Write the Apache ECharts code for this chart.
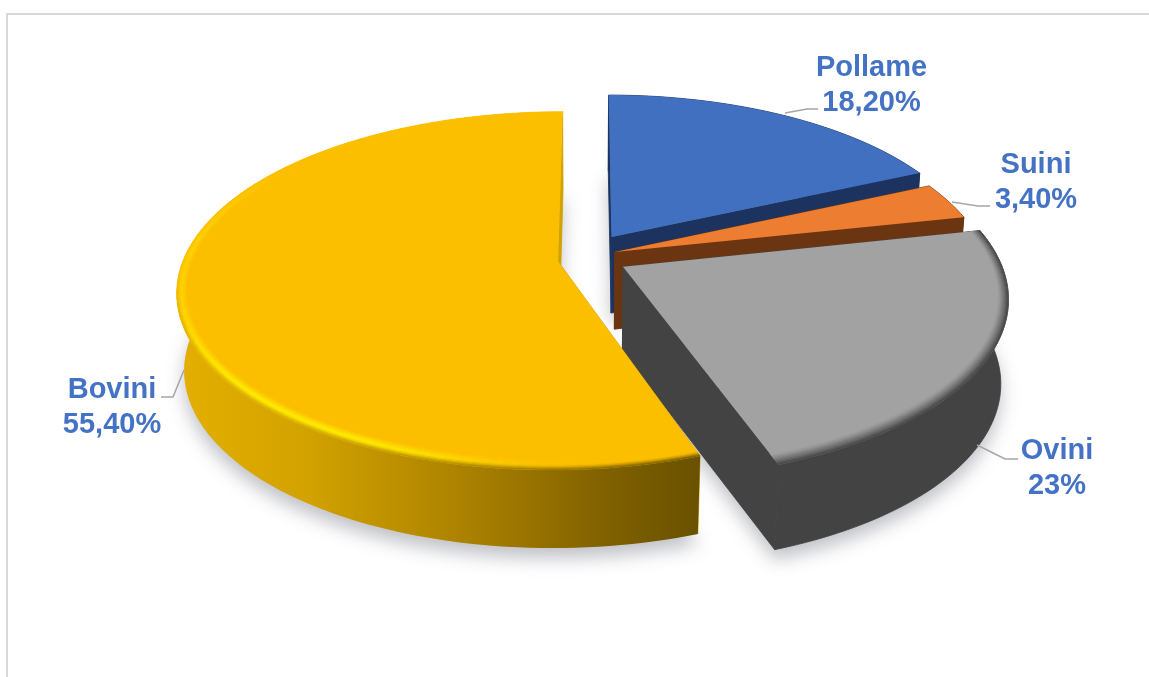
<!DOCTYPE html>
<html lang="it">
<head>
<meta charset="utf-8">
<title>Ripartizione per specie</title>
<style>html,body{margin:0;padding:0;background:#fff}#grafico{width:1149px;height:677px}</style>
<script src="https://cdn.jsdelivr.net/npm/echarts@6/dist/echarts.min.js"></script>
</head>
<body>
<div id="grafico"></div>
<script>
// Contenuto del grafico
const specie = ['Pollame', 'Suini', 'Ovini', 'Bovini'];
const quote = [18.2, 3.4, 23, 55.4];
const etichette = ['18,20%', '3,40%', '23%', '55,40%'];

// Aspetto delle fette: faccia superiore, fianchi e tagli radiali
const coloriFaccia = ['#4170C0', '#ED7D31', '#A2A2A2', '#FCBF00'];
const coloriFianco = ['#1C335F', '#6B3511', '#434343', '#8A6A00'];
const coloriTaglio = ['#1C335F', '#6B3511', '#434343', '#D2A200'];

// Proiezione prospettica del disco
const vista = { cx: 590, cy: 258, a: 378, b: 175, p: 0.165, q: 0.018 };
// Esplosione di ogni fetta sul piano del disco, raggio e spessore
const esplosione = [[0.058, 0.122], [0.066, 0.034], [0.0865, -0.05], [-0.084, -0.02]];
const raggi = [0.978, 0.985, 0.995, 0.99];
const spessori = [76, 77, 85, 78];
// Larghezza dello smusso: sui lati e sul fronte del disco
const bordoLato = 0.026, bordoFronte = 0.046;

// Posizione delle etichette e delle linee guida
const posEtichette = [[871.5, 85], [1036, 182], [1057, 468], [112, 407]];
const guide = [
  [[785, 113], [807, 109], [818, 109]],
  [[952, 202], [978, 206], [990, 206]],
  [[977, 445], [1005, 459], [1018, 459]],
  [[184, 370], [173, 397], [161, 397]]
];

const RAD = Math.PI / 180;
const totale = quote.reduce((s, v) => s + v, 0);
const inizi = [];
quote.reduce((acc, v, i) => { inizi[i] = acc; return acc + v / totale * 360; }, 0);

function proietta(u, v, t, h) {
  const w = 1 + vista.p * v;
  return [vista.cx + vista.a * u / (w + vista.q * t), vista.cy - vista.b * v / w + h * t];
}
function puntoDisco(i, theta, r, t) {
  const [du, dv] = esplosione[i];
  const R = raggi[i] * r;
  return proietta(du + R * Math.sin(theta * RAD), dv + R * Math.cos(theta * RAD), t, spessori[i]);
}
function arco(i, th0, th1, r, t) {
  const n = Math.max(2, Math.ceil(Math.abs(th1 - th0) / 1.5));
  const pts = [];
  for (let k = 0; k <= n; k++) pts.push(puntoDisco(i, th0 + (th1 - th0) * k / n, r, t));
  return pts;
}
const hex = c => [1, 3, 5].map(k => parseInt(c.slice(k, k + 2), 16));
function misto(c1, c2, f) {
  const a = hex(c1), b = hex(c2);
  return '#' + a.map((x, k) => Math.round(x + (b[k] - x) * f).toString(16).padStart(2, '0')).join('');
}
const gradino = (e0, e1, x) => { const s = Math.min(1, Math.max(0, (x - e0) / (e1 - e0))); return s * s * (3 - 2 * s); };

// Sfumatura del fianco giallo, da sinistra a destra
const tappeFianco = [[0, '#E4AF00'], [0.25, '#D2A200'], [0.5, '#B28700'], [0.68, '#977200'], [0.82, '#806100'], [1, '#695100']];
function coloreFianco(f) {
  f = Math.min(1, Math.max(0, f));
  for (let k = 1; k < tappeFianco.length; k++) {
    if (f <= tappeFianco[k][0]) {
      const [f0, c0] = tappeFianco[k - 1], [f1, c1] = tappeFianco[k];
      return misto(c0, c1, (f - f0) / (f1 - f0));
    }
  }
  return tappeFianco[tappeFianco.length - 1][1];
}

// Colore dello smusso lungo il bordo esterno
function coloreBordo(i, theta, f, x) {
  if (i === 2) return misto('#A2A2A2', '#434343', Math.pow(f, 1.3));
  const fianco = coloreFianco((x - 176) / 522);
  const luce = gradino(175, 210, theta) * (1 - 0.55 * gradino(225, 262, theta)) * (1 - gradino(272, 312, theta));
  const esterno = misto(coloriFaccia[3], fianco, 1 - gradino(250, 272, theta));
  const picco = misto(coloriFaccia[3], '#FFEE00', luce);
  return f < 0.55 ? misto(coloriFaccia[3], picco, f / 0.55) : misto(picco, esterno, Math.pow((f - 0.55) / 0.45, 1.4));
}
// Raggio relativo di una fascia dello smusso a un dato angolo
function raggioFascia(theta, fr) {
  const s = Math.sin(theta * RAD) * bordoLato, c = Math.cos(theta * RAD) * bordoFronte;
  return 1 - Math.sqrt(s * s + c * c) * (1 - fr);
}

function renderOmbra(params, api) {
  const i = params.dataIndex;
  const th0 = inizi[i], th1 = th0 + api.value(0) / totale * 360;
  const pts = [puntoDisco(i, 0, 0, 1)].concat(arco(i, th0, th1, 1, 1));
  return {
    type: 'polygon', silent: true,
    shape: { points: pts },
    style: { fill: '#C4C6CC', shadowColor: 'rgba(90,92,105,0.38)', shadowBlur: 18, shadowOffsetX: 0, shadowOffsetY: 10 }
  };
}

function renderFetta(params, api) {
  const i = params.dataIndex;
  const th0 = inizi[i], th1 = th0 + api.value(0) / totale * 360;
  const figli = [];
  const taglio = th => [puntoDisco(i, th, 0, 0), puntoDisco(i, th, 1, 0), puntoDisco(i, th, 1, 1), puntoDisco(i, th, 0, 1)];
  const tratto = c => ({ fill: c, stroke: c, lineWidth: 0.8 });
  figli.push({ type: 'polygon', shape: { points: taglio(th0) }, style: tratto(coloriTaglio[i]) });
  figli.push({ type: 'polygon', shape: { points: taglio(th1) }, style: tratto(coloriTaglio[i]) });

  // Il fianco giallo si ferma dove resta comunque nascosto dalla faccia superiore
  const fineFianco = i === 3 ? Math.min(th1, 300) : th1;
  const sopra = arco(i, th0, fineFianco, 1, 0);
  const sotto = arco(i, fineFianco, th0, 1, 1);
  const tinta = i === 3
    ? { fill: new echarts.graphic.LinearGradient(0, 0, 1, 0, tappeFianco.map(([offset, color]) => ({ offset, color }))) }
    : tratto(coloriFianco[i]);
  figli.push({ type: 'polygon', shape: { points: sopra.concat(sotto) }, style: tinta });

  figli.push({
    type: 'polygon',
    shape: { points: [puntoDisco(i, 0, 0, 0)].concat(arco(i, th0, th1, 1, 0)) },
    style: { fill: coloriFaccia[i] }
  });

  // Smusso a fasce concentriche sulle fette rivolte verso chi guarda
  if (i >= 2) {
    const fasce = 9, passo = 2;
    for (let k = 0; k < fasce; k++) {
      const f = (k + 0.5) / fasce;
      for (let th = th0; th < th1 - 0.001; th += passo) {
        const e = Math.min(th + passo, th1), m = (th + e) / 2;
        const x = puntoDisco(i, m, 1, 0)[0];
        const col = coloreBordo(i, m, f, x);
        figli.push({
          type: 'polygon',
          shape: { points: [
            puntoDisco(i, th, raggioFascia(th, k / fasce), 0), puntoDisco(i, e, raggioFascia(e, k / fasce), 0),
            puntoDisco(i, e, raggioFascia(e, (k + 1) / fasce), 0), puntoDisco(i, th, raggioFascia(th, (k + 1) / fasce), 0)
          ] },
          style: { fill: col, stroke: col, lineWidth: 0.6 }
        });
      }
    }
  }
  return { type: 'group', silent: true, children: figli };
}

function renderEtichetta(params, api) {
  const i = params.dataIndex;
  return {
    type: 'group', silent: true,
    children: [
      { type: 'polyline', shape: { points: guide[i] }, style: { fill: 'none', stroke: '#A6A6A6', lineWidth: 1.5 } },
      {
        type: 'text',
        style: {
          text: specie[i] + '\n' + etichette[i],
          x: posEtichette[i][0], y: posEtichette[i][1],
          align: 'center', verticalAlign: 'middle',
          font: 'bold 29px "Liberation Sans", Arial, sans-serif',
          lineHeight: 35, fill: '#4472C4'
        }
      }
    ]
  };
}

const dati = quote.map((v, i) => ({ name: specie[i], value: [v] }));
const grafico = echarts.init(document.getElementById('grafico'));
grafico.setOption({
  animation: false,
  backgroundColor: '#ffffff',
  graphic: [
    { type: 'rect', silent: true, shape: { x: 6, y: 13, width: 1143, height: 2 }, style: { fill: '#D9D9D9' } },
    { type: 'rect', silent: true, shape: { x: 6, y: 13, width: 2, height: 664 }, style: { fill: '#D9D9D9' } }
  ],
  series: [
    { type: 'custom', coordinateSystem: 'none', data: dati, renderItem: renderOmbra, z: 1 },
    { type: 'custom', coordinateSystem: 'none', data: dati, renderItem: renderFetta, z: 2 },
    { type: 'custom', coordinateSystem: 'none', data: dati, renderItem: renderEtichetta, z: 3 }
  ]
});
</script>
</body>
</html>
